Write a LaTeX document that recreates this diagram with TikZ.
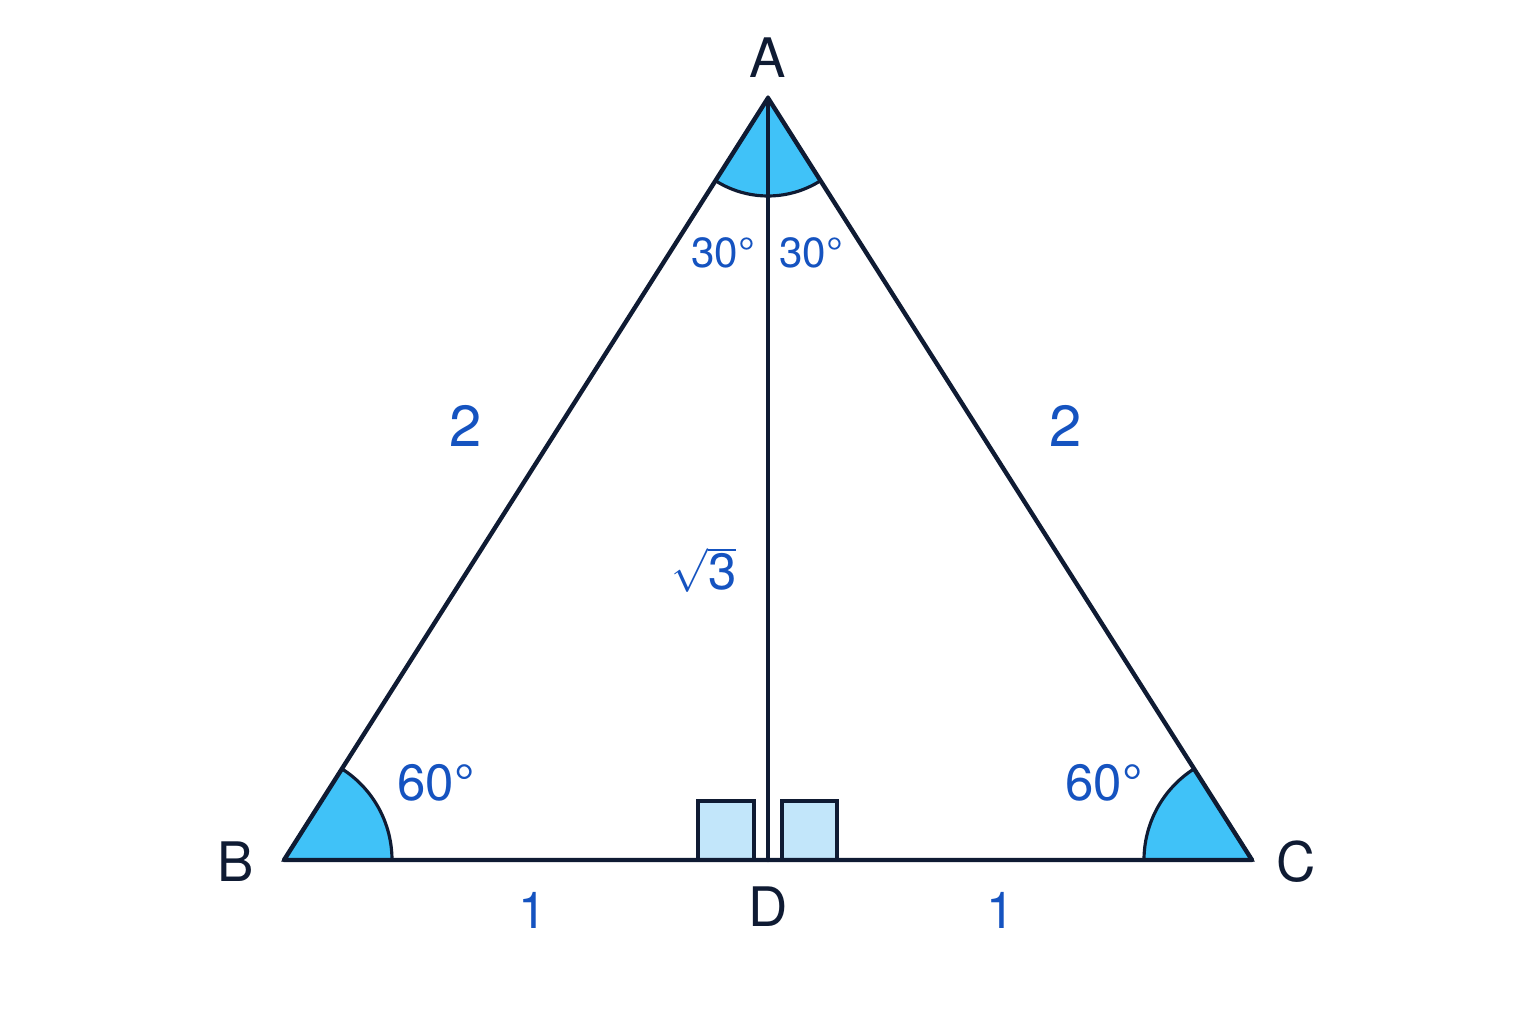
\documentclass[tikz,border=0pt]{standalone}
\usepackage{fontspec}
\setmainfont{TeX Gyre Heros}
\usetikzlibrary{calc,
	positioning}
\definecolor{ink}{HTML}{0F1B33}
\definecolor{lblue}{HTML}{1553C0}
\definecolor{angfill}{HTML}{40C2F8}
\definecolor{boxfill}{HTML}{C2E6FA}
\tikzstyle{side}=[draw=ink, line width=2.5pt, line join=round, line cap=round]
\tikzstyle{ang}=[draw=ink, fill=angfill, line width=1.8pt]
\tikzstyle{rbox}=[draw=ink, fill=boxfill, line width=1.8pt]
\tikzstyle{vtx}=[text=ink, inner sep=0, font=\fontsize{31}{31}\selectfont]
\tikzstyle{lbl}=[text=lblue, inner sep=0, font=\fontsize{29}{29}\selectfont]
\tikzstyle{lbls}=[lbl, font=\fontsize{24}{24}\selectfont]
\tikzstyle{lblb}=[lbl, font=\fontsize{33}{33}\selectfont]

\begin{document}
\begin{tikzpicture}[x=0.02cm, y=0.02cm]
	\useasboundingbox (0,0) rectangle (1536,1024);
	\coordinate (A) at (768,926);
	\coordinate (B) at (284,164);
	\coordinate (C) at (1252,164);
	\coordinate (D) at (768,164);
	% angle marks
	\path[ang] (A) -- +(237.57:98) arc[start angle=237.57, end angle=302.43, radius=98] -- cycle;
	\path[ang] (B) -- +(0:108) arc[start angle=0, end angle=57.57, radius=108] -- cycle;
	\path[ang] (C) -- +(180:108) arc[start angle=180, end angle=122.43, radius=108] -- cycle;
	% right angle boxes
	\path[rbox] ($(D)+(-70,0)$) rectangle +(56,59);
	\path[rbox] ($(D)+(14,0)$) rectangle +(55,59);
	% triangle and altitude
	\path[side] (A) -- (B) -- (C) -- cycle;
	\path[side] (A) -- (D);
	% vertices
	\node[vtx] (lA) at (768,966) {A};
	\node[vtx] (lB) at (236,162) {B};
	\node[vtx] (lC) at (1296,162) {C};
	\node[vtx] (lD) at (768,117) {D};
	% sides and angles
	\node[lblb] (ab) at (466,598) {2};
	\node[lblb] (ac) at (1066,598) {2};
	\node[lbl] (bd) at (533,114) {1};
	\node[lbl] (dc) at (1001,114) {1};
	\node[lbl] (ad) at (704,454) {$\sqrt{\hbox{3}}$};
	\node[lbls] (aL) at (723,771) {30°};
	\node[lbls] (aR) at (811,771) {30°};
	\node[lbl] (aB) at (436,241) {60°};
	\node[lbl] (aC) at (1104,241) {60°};
\end{tikzpicture}
\end{document}
